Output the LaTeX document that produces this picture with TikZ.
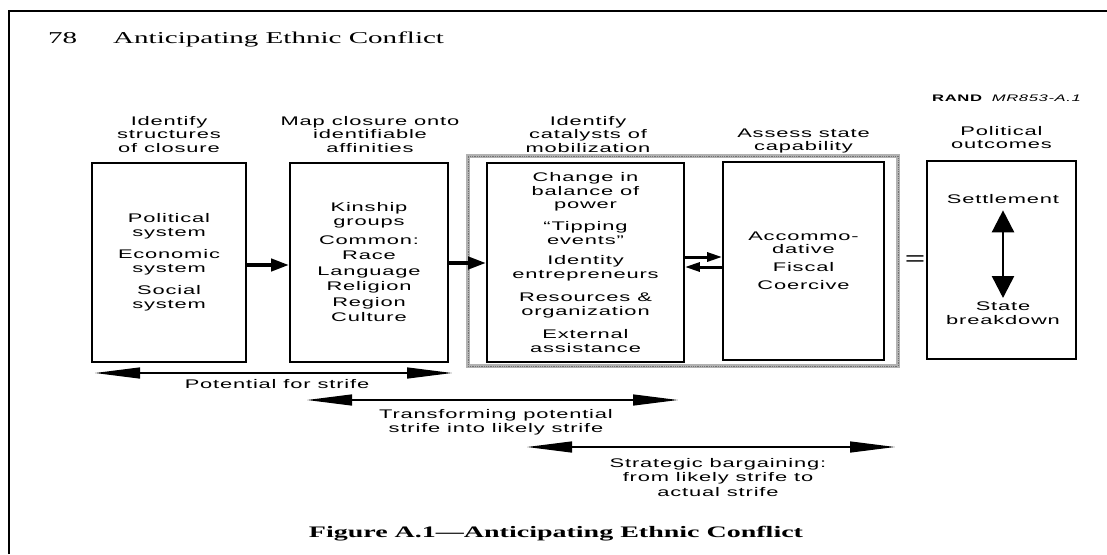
\documentclass[tikz,border=0pt]{standalone}
\usepackage{fontspec}
\setmainfont{Liberation Serif}[FakeStretch=1.75]
\newfontfamily\lab{Liberation Sans}[FakeStretch=1.75,LetterSpace=6.7]
\usetikzlibrary{arrows.meta}
\begin{document}
\begin{tikzpicture}[x=1pt,y=-1pt,
  lbl/.style={font=\lab\fontsize{12.5}{13.5}\selectfont, align=center, inner sep=0pt},
  head/.style={lbl, anchor=north},
  box/.style={draw, line width=1.8pt, inner sep=0pt, lbl},
  fat/.style={line width=4pt, -{Triangle[length=18pt,width=12pt]}},
  mid/.style={line width=3pt, -{Triangle[length=15pt,width=9pt]}},
  span/.style={line width=1.3pt, {Triangle[length=45pt,width=11pt]}-{Triangle[length=45pt,width=11pt]}},
  vert/.style={line width=2.5pt, {Triangle[length=22pt,width=22pt]}-{Triangle[length=22pt,width=22pt]}}]
\useasboundingbox (0,0) rectangle (1107,554);
% page edge of the scan
\draw[line width=2.5pt] (9,554) -- (9,11) -- (1107,11);
% running head
\node[anchor=base west, inner sep=0pt, font=\fontsize{16.6}{20}\selectfont] (pg) at (48,43) {78};
\node[anchor=base west, inner sep=0pt, font=\fontsize{16.6}{20}\selectfont] (hd) at (113,43) {Anticipating Ethnic Conflict};
\node[anchor=base west, inner sep=0pt, font=\lab\fontsize{9.5}{11}\selectfont] (rand) at (932,101) {\textbf{RAND}\hspace{9pt}\textit{MR853-A.1}};
% column headings
\node[head] (h1) at (169,115.5) {\strut Identify\\structures\\of closure};
\node[head] (h2) at (370,115.5) {\strut Map closure onto\\identifiable\\affinities};
\node[head] (h3) at (588,115.5) {\strut Identify\\catalysts of\\mobilization};
\node[head] (h4) at (803.5,127.5) {\strut Assess state\\capability};
\node[head] (h5) at (1001.5,125.5) {\strut Political\\outcomes};
% grey frame round the bargaining stage
\node[draw=gray!60, line width=4pt, minimum width=430pt, minimum height=210pt, inner sep=0pt] (stage) at (683,261) {};
\node[draw=black!55, line width=1pt, dash pattern=on 0.6pt off 1.2pt, minimum width=430pt, minimum height=210pt, inner sep=0pt] (stagetex) at (683,261) {};
% boxes
\node[box, minimum width=154pt, minimum height=199pt] (b1) at (169,262.5)
  {Political\\system\\[9pt]Economic\\system\\[9pt]Social\\system};
\node[box, minimum width=158pt, minimum height=199pt] (b2) at (369,262.5)
  {Kinship\\groups\\[5.5pt]Common:\\[2pt]Race\\[2pt]Language\\[2pt]Religion\\[2pt]Region\\[2pt]Culture};
\node[box, minimum width=197pt, minimum height=199pt] (b3) at (585.5,262.5)
  {Change in\\balance of\\power\\[8.5pt]“Tipping\\events”\\[7pt]Identity\\entrepreneurs\\[10pt]Resources \&\\organization\\[10pt]External\\assistance};
\node[box, minimum width=161pt, minimum height=198pt] (b4) at (803.5,261)
  {Accommo-\\dative\\[4.5pt]Fiscal\\[4.5pt]Coercive};
\node[box, minimum width=149pt, minimum height=198pt] (b5) at (1001.5,260) {};
\node[lbl, anchor=base] (settle) at (1003,203.5) {Settlement};
\node[head] (state) at (1003,301) {\strut State\\breakdown};
\draw[vert, shorten <=6.5pt, shorten >=3pt] (settle.south) -- (state.north);
\node[font=\lab\fontsize{20}{20}\selectfont, inner sep=0pt] (eq) at (915,261) {=};
% flow arrows
\draw[fat] ([yshift=-2.5pt]b1.east) -- ([yshift=-2.5pt]b1.east -| b2.west);
\draw[fat] ([yshift=-0.5pt]b2.east) -- ([yshift=-0.5pt]b2.east -| b3.west);
\draw[mid] ([yshift=5.5pt]b3.east) -- ([yshift=5.5pt]b3.east -| b4.west);
\draw[mid] ([yshift=-4.5pt]b3.east -| b4.west) -- ([yshift=-4.5pt]b3.east);
% spans
\coordinate (s1a) at (95,373);  \coordinate (s1b) at (452,373);
\coordinate (s2a) at (307,400); \coordinate (s2b) at (678,400);
\coordinate (s3a) at (527,447); \coordinate (s3b) at (895,447);
\draw[span] (s1a) -- (s1b);
\draw[span] (s2a) -- (s2b);
\draw[span] (s3a) -- (s3b);
\node[head] (t1) at (277,378.5) {\strut Potential for strife};
\node[head] (t2) at (496,409) {\strut Transforming potential\\strife into likely strife};
\node[head] (t3) at (718,458) {\strut Strategic bargaining:\\[0.5pt]from likely strife to\\[1pt]actual strife};
% caption
\node[anchor=base, inner sep=0pt, font=\bfseries\fontsize{16}{19}\selectfont] (cap) at (556,537) {Figure A.1—Anticipating Ethnic Conflict};
\end{tikzpicture}
\end{document}
